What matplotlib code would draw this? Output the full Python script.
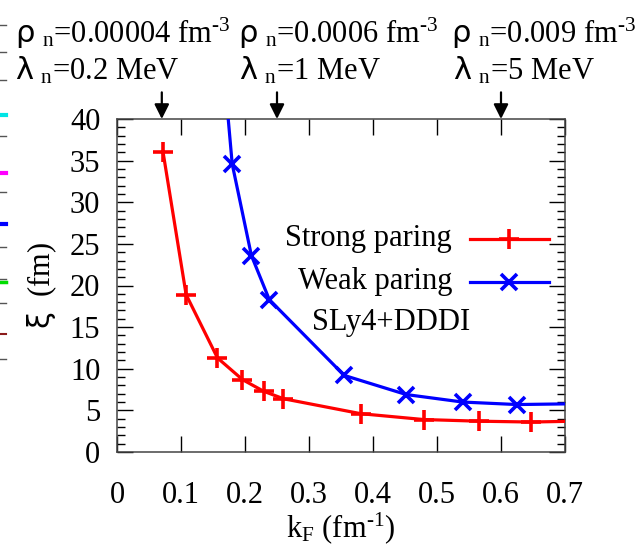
import numpy as np
import matplotlib
matplotlib.use("Agg")
import matplotlib.pyplot as plt
from matplotlib.lines import Line2D
from matplotlib.ticker import MultipleLocator

# =========================
# 数据
# =========================
k_strong = [0.072, 0.108, 0.157, 0.196, 0.229, 0.260, 0.381, 0.479, 0.566, 0.647, 0.73]
xi_strong = [36.0, 18.9, 11.3, 8.7, 7.3, 6.4, 4.6, 3.9, 3.7, 3.6, 3.72]

k_weak = [0.160, 0.180, 0.210, 0.238, 0.355, 0.452, 0.540, 0.625, 0.72]
xi_weak = [52.0, 34.6, 23.6, 18.3, 9.2, 6.9, 6.0, 5.7, 5.8]

arrow_k = [0.07, 0.25, 0.60]
rho_labels = ["0.00004", "0.0006", "0.009"]
lam_labels = ["0.2", "1", "5"]

x_ticks = [0, 0.1, 0.2, 0.3, 0.4, 0.5, 0.6, 0.7]
x_ticklabels = ["0", "0.1", "0.2", "0.3", "0.4", "0.5", "0.6", "0.7"]

# =========================
# 字体
# =========================
plt.rcParams['font.family'] = ['Liberation Serif', 'DejaVu Serif']
plt.rcParams['mathtext.fontset'] = 'custom'
plt.rcParams['mathtext.rm'] = 'Liberation Serif'
plt.rcParams['mathtext.it'] = 'Liberation Serif:italic'
plt.rcParams['mathtext.sf'] = 'DejaVu Sans'
FS = 22

W, H = 641, 551
fig = plt.figure(figsize=(W / 100, H / 100), dpi=100)
ax = fig.add_axes([117 / W, 1 - 452 / H, 448 / W, 333 / H])

ax.plot(k_strong, xi_strong, color='#ff0000', lw=2.3, marker='+',
        ms=14, mew=2.6, zorder=3)
ax.plot(k_weak, xi_weak, color='#0000ff', lw=2.3, marker='x',
        ms=12, mew=2.6, zorder=3)

ax.set_xlim(0, 0.7)
ax.set_ylim(0, 40)
ax.set_xticks(x_ticks)
ax.set_xticklabels(x_ticklabels)
ax.yaxis.set_major_locator(MultipleLocator(5))
ax.yaxis.set_minor_locator(MultipleLocator(1))
ax.tick_params(axis='both', which='major', direction='in', length=11.5,
               width=1.0, labelsize=FS, top=True, right=True)
ax.tick_params(axis='x', which='major', pad=21)
ax.tick_params(axis='y', which='major', pad=12)
ax.tick_params(axis='y', which='minor', direction='in', length=6,
               width=1.0, left=True, right=True)
for sp in ax.spines.values():
    sp.set_color('#444444')
    sp.set_linewidth(1.1)

ax.set_xlabel(r"k$_{\mathrm{F}}$ (fm$^{\text{-1}}$)", fontsize=FS, labelpad=0)
ax.set_ylabel(r"$\mathsf{\xi}$  (fm)", fontsize=FS, labelpad=8)

# 图例（手工，文字右对齐）
leg_items = [("Strong paring", '#ff0000', '+', 14, 0.640),
             ("Weak paring", '#0000ff', 'x', 12, 0.511)]
for lab, c, m, ms, yy in leg_items:
    ax.text(0.748, yy, lab, transform=ax.transAxes, ha='right', va='center',
            fontsize=FS)
    ax.add_line(Line2D([0.788, 0.964], [yy, yy], transform=ax.transAxes,
                       color=c, lw=2.3))
    ax.add_line(Line2D([0.875], [yy], transform=ax.transAxes, color=c,
                       marker=m, ms=ms, mew=2.6, ls='none'))
ax.text(0.612, 0.388, "SLy4+DDDI", transform=ax.transAxes, ha='center',
        va='center', fontsize=FS)

# 顶部箭头
for k in arrow_k:
    ax.annotate('', xy=(k, 1.0), xycoords=('data', 'axes fraction'),
                xytext=(k, 1.08), textcoords=('data', 'axes fraction'),
                arrowprops=dict(arrowstyle='-|>', color='k', lw=1.6,
                                mutation_scale=22, shrinkA=0, shrinkB=0),
                annotation_clip=False)

# 顶部文字
rho_x = [15, 238, 451]
lam_x = [15, 239, 453]
for xp, r in zip(rho_x, rho_labels):
    fig.text(xp / W, 1 - 43 / H,
             r"$\mathsf{\rho}$ $_{\mathrm{n}}$=" + r + r" fm$^{\text{-3}}$",
             fontsize=FS, ha='left', va='baseline')
for xp, l in zip(lam_x, lam_labels):
    fig.text(xp / W, 1 - 80 / H,
             r"$\mathsf{\lambda}$ $_{\mathrm{n}}$=" + l + " MeV",
             fontsize=FS, ha='left', va='baseline')

# 左边缘残留刻度
edge_black = [25, 52, 80, 136, 192, 247, 279, 303, 359]
edge_color = [(115, '#00e5e5', 3), (173, '#ff00ff', 3), (224, '#0000ff', 3),
              (282, '#00dd00', 2.5), (334, '#8b1a1a', 1.5)]
for yp in edge_black:
    fig.add_artist(Line2D([0, 6 / W], [1 - yp / H] * 2,
                          transform=fig.transFigure, color='#555555', lw=1))
for yp, c, w in edge_color:
    fig.add_artist(Line2D([0, 6 / W], [1 - yp / H] * 2,
                          transform=fig.transFigure, color=c, lw=w))

fig.savefig("out.png", dpi=100)
